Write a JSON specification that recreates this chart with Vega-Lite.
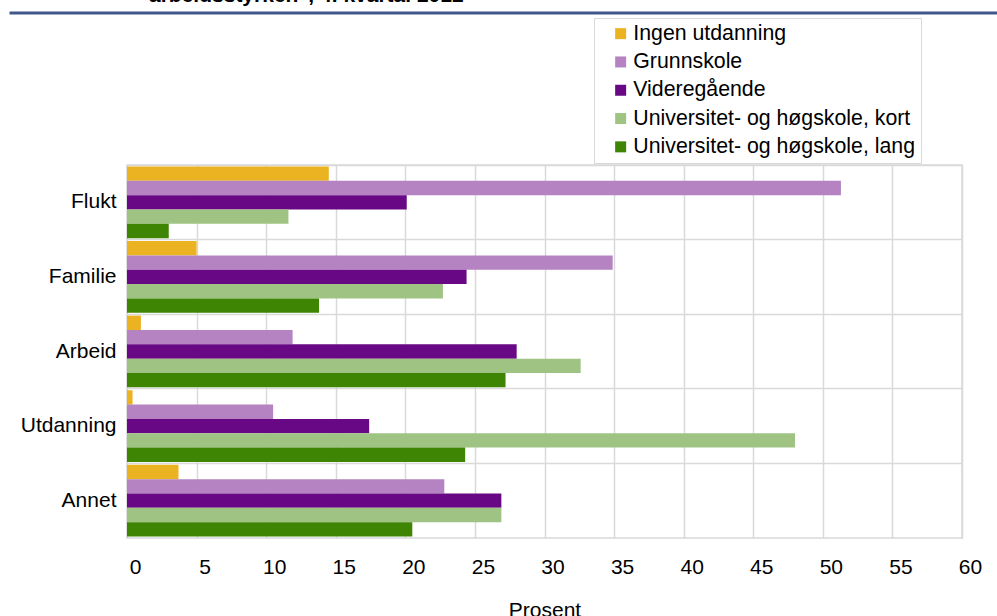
{
  "$schema": "https://vega.github.io/schema/vega-lite/v6.json",
  "width": 835,
  "height": 373,
  "autosize": "none",
  "padding": {"left": 127, "top": 165, "right": 35, "bottom": 78},
  "background": "white",
  "title": {
    "text": "arbeidsstyrken\", 4. kvartal 2012",
    "frame": "group",
    "anchor": "start",
    "orient": "top",
    "offset": 7,
    "dx": 22,
    "fontSize": 21,
    "fontWeight": "bold",
    "font": "Liberation Sans",
    "color": "#000000"
  },
  "config": {
    "view": {"stroke": "#d9d9d9", "strokeWidth": 1.5},
    "font": "Liberation Sans"
  },
  "data": {
    "values": [
      {"grunn": "Flukt", "utd": "Ingen utdanning", "prosent": 14.5},
      {"grunn": "Flukt", "utd": "Grunnskole", "prosent": 51.3},
      {"grunn": "Flukt", "utd": "Videregående", "prosent": 20.1},
      {"grunn": "Flukt", "utd": "Universitet- og høgskole, kort", "prosent": 11.6},
      {"grunn": "Flukt", "utd": "Universitet- og høgskole, lang", "prosent": 3.0},
      {"grunn": "Familie", "utd": "Ingen utdanning", "prosent": 5.0},
      {"grunn": "Familie", "utd": "Grunnskole", "prosent": 34.9},
      {"grunn": "Familie", "utd": "Videregående", "prosent": 24.4},
      {"grunn": "Familie", "utd": "Universitet- og høgskole, kort", "prosent": 22.7},
      {"grunn": "Familie", "utd": "Universitet- og høgskole, lang", "prosent": 13.8},
      {"grunn": "Arbeid", "utd": "Ingen utdanning", "prosent": 1.0},
      {"grunn": "Arbeid", "utd": "Grunnskole", "prosent": 11.9},
      {"grunn": "Arbeid", "utd": "Videregående", "prosent": 28.0},
      {"grunn": "Arbeid", "utd": "Universitet- og høgskole, kort", "prosent": 32.6},
      {"grunn": "Arbeid", "utd": "Universitet- og høgskole, lang", "prosent": 27.2},
      {"grunn": "Utdanning", "utd": "Ingen utdanning", "prosent": 0.4},
      {"grunn": "Utdanning", "utd": "Grunnskole", "prosent": 10.5},
      {"grunn": "Utdanning", "utd": "Videregående", "prosent": 17.4},
      {"grunn": "Utdanning", "utd": "Universitet- og høgskole, kort", "prosent": 48.0},
      {"grunn": "Utdanning", "utd": "Universitet- og høgskole, lang", "prosent": 24.3},
      {"grunn": "Annet", "utd": "Ingen utdanning", "prosent": 3.7},
      {"grunn": "Annet", "utd": "Grunnskole", "prosent": 22.8},
      {"grunn": "Annet", "utd": "Videregående", "prosent": 26.9},
      {"grunn": "Annet", "utd": "Universitet- og høgskole, kort", "prosent": 26.9},
      {"grunn": "Annet", "utd": "Universitet- og høgskole, lang", "prosent": 20.5}
    ]
  },
  "layer": [
    {
      "mark": {"type": "bar"},
      "encoding": {
        "y": {
          "field": "grunn",
          "type": "nominal",
          "sort": ["Flukt", "Familie", "Arbeid", "Utdanning", "Annet"],
          "scale": {"paddingInner": 0, "paddingOuter": 0},
          "axis": {
            "title": null,
            "bandPosition": 0,
            "ticks": false,
            "tickSize": 0,
            "domain": false,
            "grid": true,
            "gridColor": "#d9d9d9",
            "gridWidth": 1.5,
            "labelFontSize": 21,
            "labelFont": "Liberation Sans",
            "labelColor": "#000000",
            "labelPadding": 11
          }
        },
        "yOffset": {
          "field": "utd",
          "type": "nominal",
          "sort": ["Ingen utdanning", "Grunnskole", "Videregående", "Universitet- og høgskole, kort", "Universitet- og høgskole, lang"],
          "scale": {"paddingInner": 0, "paddingOuter": 0.1}
        },
        "x": {
          "field": "prosent",
          "type": "quantitative",
          "scale": {"domain": [0, 60], "nice": false},
          "axis": {
            "title": "Prosent",
            "titleFontSize": 21,
            "titleFontWeight": "normal",
            "titleFont": "Liberation Sans",
            "titleColor": "#000000",
            "titlePadding": 22,
            "values": [0, 5, 10, 15, 20, 25, 30, 35, 40, 45, 50, 55, 60],
            "ticks": false,
            "tickSize": 0,
            "domain": false,
            "grid": true,
            "gridColor": "#d9d9d9",
            "gridWidth": 1.5,
            "labelFontSize": 21,
            "labelFont": "Liberation Sans",
            "labelColor": "#000000",
            "labelPadding": 18,
            "labelOffset": 8,
            "labelFlush": false
          }
        },
        "color": {
          "field": "utd",
          "type": "nominal",
          "sort": ["Ingen utdanning", "Grunnskole", "Videregående", "Universitet- og høgskole, kort", "Universitet- og høgskole, lang"],
          "scale": {
            "domain": ["Ingen utdanning", "Grunnskole", "Videregående", "Universitet- og høgskole, kort", "Universitet- og høgskole, lang"],
            "range": ["#ebb222", "#b583c2", "#690885", "#9fc383", "#3d8502"]
          },
          "legend": {
            "orient": "none",
            "legendX": 467,
            "legendY": -147,
            "title": null,
            "symbolType": "square",
            "symbolSize": 121,
            "symbolStrokeWidth": 0,
            "symbolOffset": 11,
            "labelFontSize": 21.3,
            "labelFont": "Liberation Sans",
            "labelColor": "#000000",
            "labelOffset": 2,
            "labelLimit": 400,
            "strokeColor": "#d9d9d9",
            "fillColor": "white",
            "padding": 5,
            "rowPadding": 6.3
          }
        }
      }
    },
    {
      "mark": {"type": "bar", "opacity": 0},
      "encoding": {
        "x": {
          "field": "prosent",
          "type": "quantitative",
          "scale": {"domain": [0, 60], "nice": false, "range": [-118, 870]},
          "axis": {
            "orient": "top",
            "offset": 152.5,
            "domainColor": "#41578a",
            "domainWidth": 3,
            "labels": false,
            "ticks": false,
            "grid": false,
            "title": null
          }
        }
      }
    }
  ],
  "resolve": {"scale": {"x": "independent"}, "axis": {"x": "independent"}}
}
